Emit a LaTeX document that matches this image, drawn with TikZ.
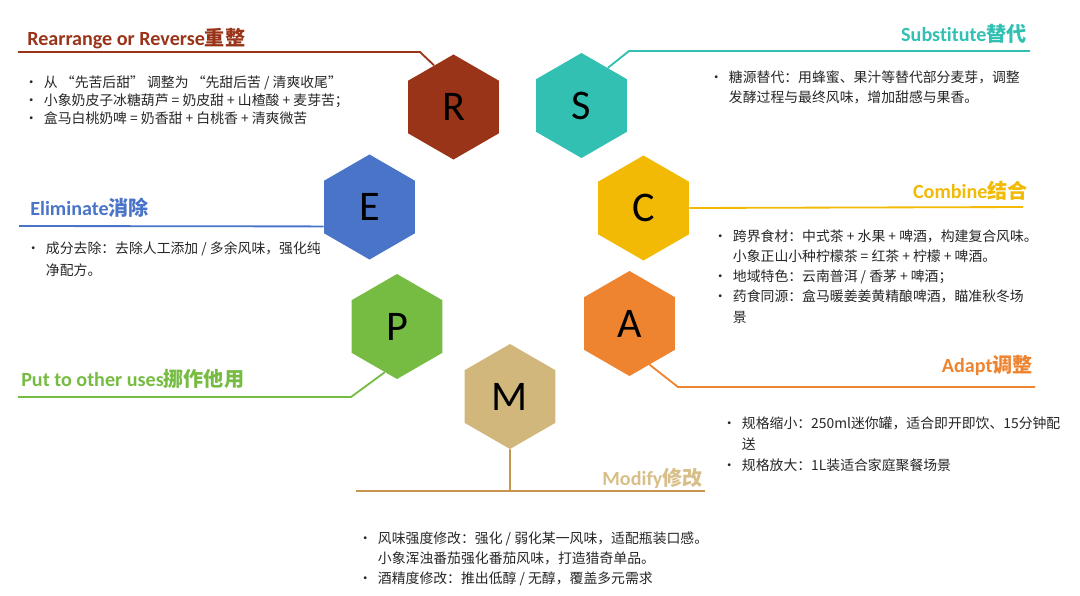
\documentclass[tikz,border=0pt]{standalone}
\usepackage{fontspec}
\usepackage{tikz}
\usetikzlibrary{shapes.geometric}
\setmainfont{Carlito}[Ligatures=NoCommon]
\newfontfamily\cjk{Noto Sans CJK SC}

\definecolor{rcol}{HTML}{9A3419}
\definecolor{scol}{HTML}{31C0B2}
\definecolor{ecol}{HTML}{4A74C8}
\definecolor{ccol}{HTML}{F2BA05}
\definecolor{pcol}{HTML}{76BC42}
\definecolor{acol}{HTML}{EE8430}
\definecolor{mcol}{HTML}{D1B77C}
\definecolor{mline}{HTML}{C6964F}
\definecolor{mtit}{HTML}{D8BF89}
\definecolor{bodytxt}{HTML}{262626}

\newcommand{\itm}{\makebox[14pt][l]{\textbullet}}
\newcommand{\cnt}{\hspace*{14pt}}

\begin{document}
\begin{tikzpicture}[x=0.025cm,y=-0.025cm,
  hexa/.style={regular polygon, regular polygon sides=6, shape border rotate=30,
    minimum size=2.625cm, inner sep=0pt, fill=#1, font=\fontsize{30}{30}\selectfont},
  link/.style={line width=1.3pt, draw=#1},
  heading/.style={inner sep=0pt, text=#1, font=\bfseries\fontsize{14.3}{16}\selectfont},
  body/.style={inner sep=0pt, anchor=north west, align=left, text=bodytxt,
    font=\cjk\fontsize{9.85}{#1}\selectfont}]
\useasboundingbox (0,0) rectangle (1080,595);

% A. Hexagons of SCAMPER
\node[hexa=rcol] (R) at (453.5,107) {R};
\node[hexa=scol] (S) at (581.5,105.5) {S};
\node[hexa=ecol] (E) at (369.5,207) {E};
\node[hexa=ccol] (C) at (643.5,208) {C};
\node[hexa=pcol] (P) at (397,326.5) {P};
\node[hexa=acol] (A) at (629.5,323.5) {A};
\node[hexa=mcol] (M) at (510,396.5) {M};

% B. Bend points and ends of the title lines
\coordinate (rk) at (420,52);
\coordinate (re) at (18,52);
\coordinate (sk) at (629,51);
\coordinate (se) at (1030,51);
\coordinate (ee) at (19,226);
\coordinate (ce) at (1023,207);
\coordinate (pk) at (351,397);
\coordinate (pe) at (18,397);
\coordinate (ak) at (678,387);
\coordinate (ae) at (1035,387);
\coordinate (mk) at (510,491);
\coordinate (ml) at (356,491);
\coordinate (mr) at (705,491);

% C. Title lines from each hexagon
\draw[link=rcol] (R.115) -- (rk) -- (re);
\draw[link=scol] (S.55) -- (sk) -- (se);
\draw[link=ecol] (E.203) -- (ee);
\draw[link=ccol] (C.0) -- (ce);
\draw[link=pcol] (P.255) -- (pk) -- (pe);
\draw[link=acol] (A.296) -- (ak) -- (ae);
\draw[link=mline] (M.270) -- (mk);
\draw[link=mline] (ml) -- (mr);

% D. Titles
\node[heading=rcol, anchor=base west] (rt) at (27,45) {Rearrange or Reverse{\cjk 重整}};
\node[heading=scol, anchor=base east] (st) at (1027,41) {Substitute{\cjk 替代}};
\node[heading=ecol, anchor=base west] (et) at (30,215) {Eliminate{\cjk 消除}};
\node[heading=ccol, anchor=base east] (ct) at (1028,198) {Combine{\cjk 结合}};
\node[heading=pcol, anchor=base west] (pt) at (21,386) {Put to other uses{\cjk 挪作他用}};
\node[heading=acol, anchor=base east] (at) at (1033,372) {Adapt{\cjk 调整}};
\node[heading=mtit, anchor=base east] (mt) at (703,485) {Modify{\cjk 修改}};

% E. Bullet texts
\node[body=13.1pt] (rb) at (24,75) {\itm 从 “先苦后甜” 调整为 “先甜后苦 / 清爽收尾”\\
  \itm 小象奶皮子冰糖葫芦 = 奶皮甜 + 山楂酸 + 麦芽苦；\\
  \itm 盒马白桃奶啤 = 奶香甜 + 白桃香 + 清爽微苦};
\node[body=14.2pt] (sb) at (709,71) {\itm 糖源替代：用蜂蜜、果汁等替代部分麦芽，调整\\
  \cnt 发酵过程与最终风味，增加甜感与果香。};
\node[body=15.6pt] (eb) at (26,241) {\itm 成分去除：去除人工添加 / 多余风味，强化纯\\
  \cnt 净配方。};
\node[body=14.4pt] (cb) at (713,229) {\itm 跨界食材：中式茶 + 水果 + 啤酒，构建复合风味。\\
  \cnt 小象正山小种柠檬茶 = 红茶 + 柠檬 + 啤酒。\\
  \itm 地域特色：云南普洱 / 香茅 + 啤酒；\\
  \itm 药食同源：盒马暖姜姜黄精酿啤酒，瞄准秋冬场\\
  \cnt 景};
\node[body=14.9pt] (ab) at (722,417) {\itm 规格缩小：250ml迷你罐，适合即开即饮、15分钟配\\
  \cnt 送\\
  \itm 规格放大：1L装适合家庭聚餐场景};
\node[body=14.2pt] (mb) at (358,532) {\itm 风味强度修改：强化 / 弱化某一风味，适配瓶装口感。\\
  \cnt 小象浑浊番茄强化番茄风味，打造猎奇单品。\\
  \itm 酒精度修改：推出低醇 / 无醇，覆盖多元需求};

\end{tikzpicture}
\end{document}
